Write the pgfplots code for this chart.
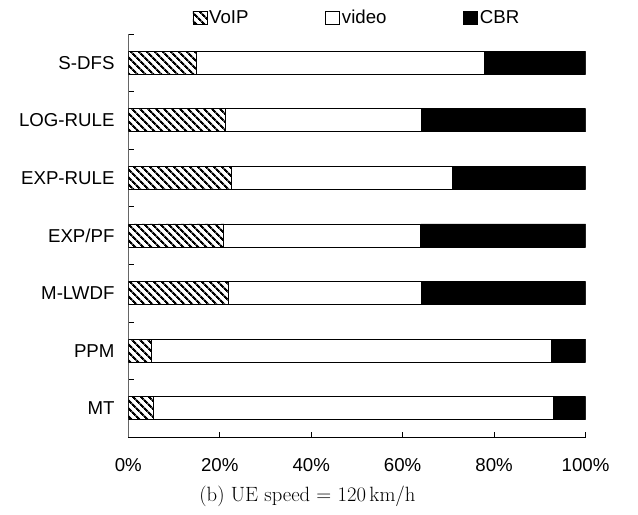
\documentclass[border=0pt]{standalone}
\usepackage{fontspec}
\newfontfamily\arial{Liberation Sans}
\usepackage{pgfplots}
\pgfplotsset{compat=1.18}
\usepackage{pgfplotstable}
\usetikzlibrary{patterns.meta}

% share of throughput per traffic class (percent), one row per scheduler
\pgfplotstableread{
idx VoIP video CBR
0   5.5  87.4  7.1
1   5.0  87.6  7.4
2   22.0 42.2  35.8
3   20.9 43.0  36.1
4   22.5 48.3  29.2
5   21.2 43.0  35.8
6   14.9 62.9  22.2
}\shares

\begin{document}
\begin{tikzpicture}
\begin{axis}[
  at={(0,0)}, anchor=south west,
  scale only axis, width=343pt, height=302.25pt,
  xbar stacked, bar width=0.4,
  xmin=0, xmax=100, ymin=-0.5, ymax=6.5,
  axis x line=bottom, axis y line=left,
  axis line style={-},
  y axis line style={black!60},
  tick align=inside,
  major tick length=4pt,
  tick style={black, line width=0.5pt},
  xtick={0,20,40,60,80,100},
  xticklabels={0\%,20\%,40\%,60\%,80\%,100\%},
  xticklabel style={font=\arial\fontsize{14}{16}\selectfont, yshift=-12.8pt},
  ytick={-0.5,0.5,1.5,2.5,3.5,4.5,5.5,6.5},
  yticklabels={,,,,,,,},
  extra y ticks={0,1,2,3,4,5,6},
  extra y tick labels={MT,PPM,M-LWDF,EXP/PF,EXP-RULE,LOG-RULE,S-DFS},
  extra y tick style={major tick length=0pt,
    yticklabel style={font=\arial\fontsize{14}{16}\selectfont, xshift=-6.8pt}},
  legend style={at={(0.5,1)}, anchor=center, yshift=12pt,
    legend columns=3, draw=none, fill=none,
    font=\arial\fontsize{14}{16}\selectfont,
    nodes={inner xsep=1.5pt},
    /tikz/every even column/.append style={column sep=56pt}},
  legend image code/.code={%
    \draw[#1, draw=black, line width=0.5pt] (0pt,-4.9pt) rectangle (10.5pt,4.9pt);},
]
\addplot[draw=black, line width=0.6pt,
  pattern={Lines[angle=-45,distance=4pt,line width=1.7pt]}]
  table[x=VoIP, y=idx] {\shares};
\addlegendentry{VoIP}
\addplot[draw=black, line width=0.6pt, fill=white]
  table[x=video, y=idx] {\shares};
\addlegendentry{video}
\addplot[draw=black, line width=0.6pt, fill=black]
  table[x=CBR, y=idx] {\shares};
\addlegendentry{CBR}
\end{axis}
\node[anchor=base, font=\fontsize{15.5}{18}\selectfont] at (134.4pt,-48.4pt)
  {(b) UE speed = 120\,km/h};
\path (-96.2pt,-57.75pt) rectangle (382.3pt,327.75pt);
\end{tikzpicture}
\end{document}
